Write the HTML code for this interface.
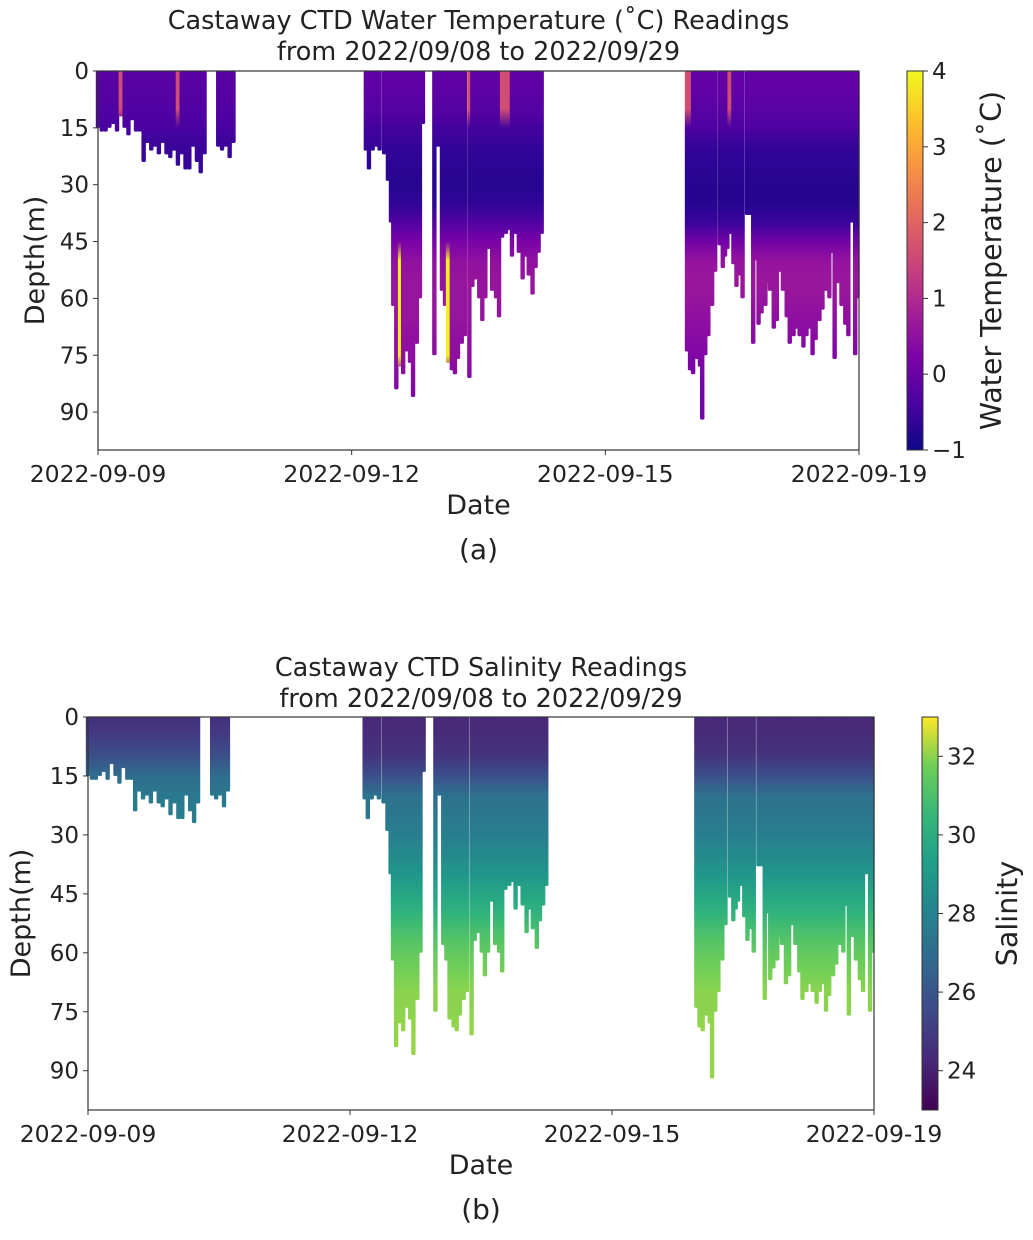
<!DOCTYPE html>
<html><head><meta charset="utf-8"><style>
body{margin:0;background:#fff}
svg text{font-family:"DejaVu Sans","Liberation Sans",sans-serif;fill:#222}
</style></head><body>
<svg id="s" width="1033" height="1235" viewBox="0 0 1033 1235" xmlns="http://www.w3.org/2000/svg">
<defs id="defs"></defs>
<g id="g"></g>
</svg>
<script>
// ---- data ----
const castDays=[0,.05,.1,.15,.2,.25,.3,.35,.4,.45,.5,.55,.6,.65,.7,.75,.8,.85,.9,.95,1.0,1.05,1.1,1.15,1.2,1.25,1.3,1.35,1.4,
1.58,1.63,1.68,1.73,1.78,
3.52,3.56,3.61,3.66,3.70,3.76,3.81,3.85,3.88,3.92,3.97,4.01,4.06,4.10,4.14,4.19,4.23,4.27,
4.42,4.47,4.52,4.56,4.60,4.65,4.69,4.73,4.78,4.82,4.88,4.92,4.96,5.01,5.05,5.09,5.14,5.18,5.23,5.27,5.31,5.36,5.40,5.44,5.49,5.53,5.58,5.62,5.66,5.71,5.75,5.79,5.83,
7.74,7.78,7.82,7.87,7.91,7.94,7.98,8.02,8.07,8.11,8.17,8.21,8.24,8.27,8.30,8.35,8.39,8.44,8.47,8.53,8.57,8.61,8.65,8.68,8.72,8.77,8.80,8.83,8.88,8.92,8.96,9.00,9.05,9.09,9.14,9.18,9.22,9.27,9.31,9.35,9.39,9.43,9.48,9.52,9.57,9.61,9.65,9.68,9.73,9.77,9.82,9.86,9.90,9.95,9.98];
const castDepths=[15,16,16,15,14,16,12,15,17,13,16,16,24,19,21,20,22,19,22,23,21,25,22,26,26,20,24,27,22,
20,21,20,23,19,
21,26,21,20,21,22,29,40,62,84,78,80,74,77,86,72,60,14,
75,20,58,62,77,79,80,76,72,70,81,57,55,60,66,60,47,58,60,65,44,43,42,49,43,48,55,49,54,59,52,48,43,
74,79,80,76,78,92,75,70,62,53,46,52,49,47,43,51,57,54,60,38,38,72,50,67,64,62,56,58,68,66,53,58,65,72,70,68,70,73,70,68,75,71,66,63,58,60,48,76,56,62,67,70,40,75,60];
const profileDepths=[0,5,10,15,20,25,30,35,40,45,50,55,60,65,70,75,80,85,90,95];
const tempEarly=[-0.2,-0.25,-0.3,-0.4,-0.55,-0.6,-0.6,-0.6,-0.6,-0.6,-0.6,-0.6,-0.6,-0.6,-0.6,-0.6,-0.6,-0.6,-0.6,-0.6];
const tempMid=[-0.15,-0.15,-0.25,-0.45,-0.6,-0.7,-0.75,-0.65,-0.3,0.2,0.5,0.6,0.6,0.6,0.5,0.5,0.4,0.3,0.2,0.2];
const tempLate=[-0.1,-0.1,-0.2,-0.35,-0.6,-0.7,-0.75,-0.75,-0.55,0.1,0.55,0.65,0.6,0.5,0.4,0.3,0.2,0.1,0.1,0.1];
const warmSurfaceDays=[0.3,1.05,4.88,5.31,5.36,5.40,7.74,7.78,8.30];
const yellowDeepDays=[3.97,4.60];
const salEarly=[24.5,25.0,25.8,27.0,27.5,27.8,28,28,28,28,28,28,28,28,28,28,28,28,28,28];
const salLate=[24.3,24.4,24.7,25.8,27.2,27.5,27.8,28.3,28.9,29.6,30.3,31.0,31.5,31.8,32.0,32.0,32.1,32.1,32.1,32.1];
const tempTicks=[-1,0,1,2,3,4];
const salTicks=[24,26,28,30,32];
const depthTicks=[0,15,30,45,60,75,90];
const dateTicks=[0,3.3333,6.6667,10];
const dateLabels=["2022-09-09","2022-09-12","2022-09-15","2022-09-19"];

const plasma=["#0d0887","#4c02a1","#7e03a8","#a92395","#cc4778","#e56b5d","#f89441","#fdc328","#f0f921"];
const viridis=["#440154","#482878","#3e4989","#31688e","#26828e","#1f9e89","#35b779","#6ece58","#fde725"];
function hex(c){return [1,3,5].map(i=>parseInt(c.substr(i,2),16));}
function cmap(m,t){t=Math.max(0,Math.min(1,t));const f=t*(m.length-1),i=Math.min(m.length-2,Math.floor(f)),r=f-i;const a=hex(m[i]),b=hex(m[i+1]);return "rgb("+a.map((v,k)=>Math.round(v+(b[k]-v)*r)).join(",")+")";}

const NS="http://www.w3.org/2000/svg";
const G=document.getElementById('g'),D=document.getElementById('defs');
function el(tag,at,par){const e=document.createElementNS(NS,tag);for(const k in at)e.setAttribute(k,at[k]);(par||G).appendChild(e);return e;}
function txt(s,x,y,size,anchor,par,extra){const t=el('text',Object.assign({x:x,y:y,'font-size':size,'text-anchor':anchor||'middle'},extra||{}),par);t.textContent=s;return t;}
function near(arr,d){return arr.some(v=>Math.abs(v-d)<0.001);}

function drawChart(c){
  const grp=el('g',{});
  
  
  const xS=d=>c.x0+(c.x1-c.x0)*d/10;
  const yS=m=>c.y0+(c.y1-c.y0)*m/100;
  const cg=el('g',{},grp);
  
  
  castDays.forEach((d,i)=>{
    const prof=c.profile(d);
    const gid=c.id+'g'+i;
    const lg=el('linearGradient',{id:gid,x1:0,y1:0,x2:0,y2:1,gradientUnits:'userSpaceOnUse'},D);
    lg.setAttribute('y1',yS(0));lg.setAttribute('y2',yS(95));
    profileDepths.forEach((pd,k)=>{
      let v=prof[k];
      if(c.id==='t'){ if(near(warmSurfaceDays,d)&&pd<=10)v=1.6; if(near(yellowDeepDays,d)&&pd>=50&&pd<=75)v=3.9;}
      el('stop',{offset:pd/95,'stop-color':cmap(c.map,(v-c.vmin)/(c.vmax-c.vmin))},lg);
    });
    const x=xS(d);
    const r=el('rect',{x:x-2.2,y:yS(0),width:4.4,height:yS(castDepths[i])-yS(0),fill:'url(#'+gid+')',rx:1.5},cg);
    
    
  });
  const fr=el('rect',{x:c.x0,y:c.y0,width:c.x1-c.x0,height:c.y1-c.y0,fill:'none',stroke:'#333','stroke-width':1.2},grp);
  
  
  depthTicks.forEach(m=>{
    el('line',{x1:c.x0-5,x2:c.x0,y1:yS(m),y2:yS(m),stroke:'#333'},grp);
    const t=txt(String(m),c.x0-9,yS(m)+8,23,'end',grp);
    
    
  });
  dateTicks.forEach((d,k)=>{
    el('line',{x1:xS(d),x2:xS(d),y1:c.y1,y2:c.y1+5,stroke:'#333'},grp);
    const t=txt(dateLabels[k],xS(d),c.y1+32,23.5,'middle',grp);
    
    
  });
  const cx=(c.x0+c.x1)/2;
  const t1=txt(c.title1,cx,c.ty,25.5,'middle',grp);
  const t2=txt(c.title2,cx,c.ty+31,25.5,'middle',grp);
  const xl=txt('Date',cx,c.y1+64,27,'middle',grp);
  const yl=txt('Depth(m)',0,0,27,'middle',grp,{transform:'translate('+c.ylx+','+(c.y0+c.y1)/2+') rotate(-90)'});
  
  const cap=txt(c.cap,cx,c.y1+109,28,'middle',grp,{'font-family':'Liberation Sans'});
  
  // colorbar
  const cb=el('g',{},grp);
  
  
  const cgid=c.id+'cb';
  const lg=el('linearGradient',{id:cgid,x1:0,y1:1,x2:0,y2:0},D);
  viridis.forEach((_,k)=>{el('stop',{offset:k/8,'stop-color':c.map[k]},lg);});
  el('rect',{x:c.cbx,y:c.y0,width:16,height:c.y1-c.y0,fill:'url(#'+cgid+')',stroke:'#333','stroke-width':1},cb);
  c.ticks.forEach(v=>{
    const y=c.y1-(c.y1-c.y0)*(v-c.vmin)/(c.vmax-c.vmin);
    el('line',{x1:c.cbx+16,x2:c.cbx+21,y1:y,y2:y,stroke:'#333'},cb);
    const t=txt(v<0?'\u2212'+(-v):String(v),c.cbx+25,y+8,23,'start',cb);
    
  });
  const cl=txt(c.cblabel,0,0,28.5,'middle',cb,{transform:'translate('+c.cblx+','+(c.y0+c.y1)/2+') rotate(-90)'});
  
}

drawChart({id:'t',name:'temperature-chart',x0:98,x1:859,y0:71,y1:450,map:plasma,vmin:-1,vmax:4,ticks:tempTicks,
  profile:d=>d<2?tempEarly:(d<7?tempMid:tempLate),title1:'Castaway CTD Water Temperature (\u02daC) Readings',
  title2:'from 2022/09/08 to 2022/09/29',ty:29,ylx:44,cap:'(a)',cbx:907,cblx:1001,cblabel:'Water Temperature (\u02daC)'});
drawChart({id:'s',name:'salinity-chart',x0:88,x1:874,y0:717,y1:1110,map:viridis,vmin:23,vmax:33,ticks:salTicks,
  profile:d=>d<2?salEarly:salLate,title1:'Castaway CTD Salinity Readings',
  title2:'from 2022/09/08 to 2022/09/29',ty:676,ylx:30,cap:'(b)',cbx:922,cblx:1017,cblabel:'Salinity'});
</script>
</body></html>
